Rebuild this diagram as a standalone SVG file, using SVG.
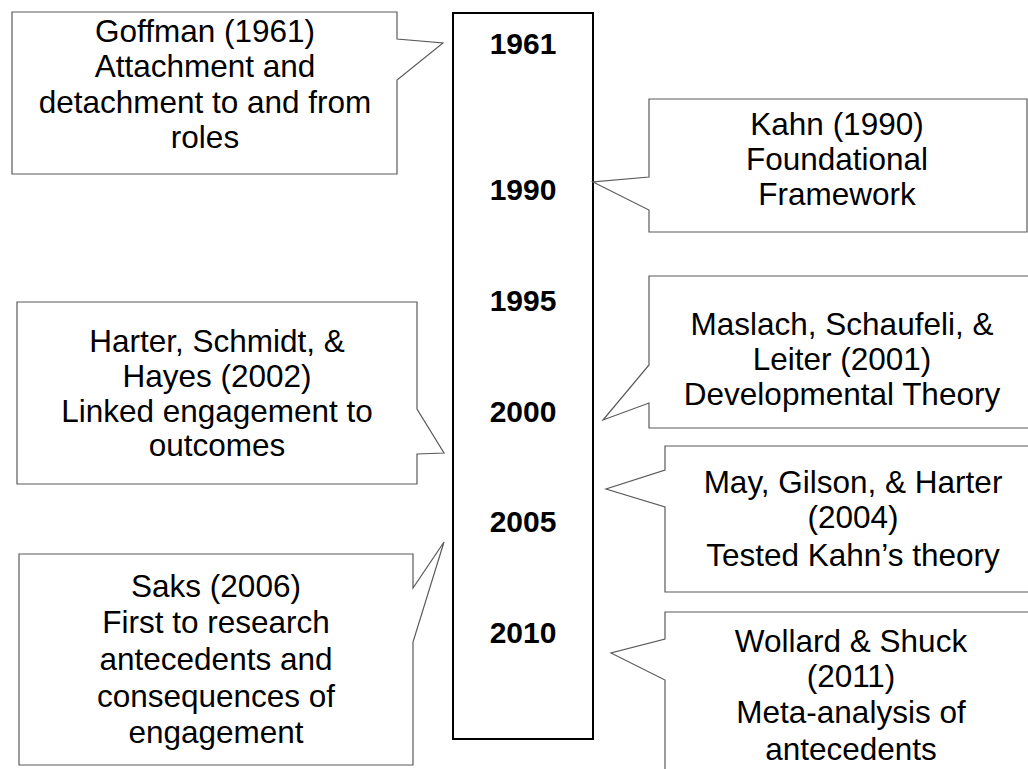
<svg xmlns="http://www.w3.org/2000/svg" width="1028" height="769" viewBox="0 0 1028 769">
  <style>
    .callout { fill: #ffffff; stroke: #5a5a5a; stroke-width: 1.2; stroke-linejoin: miter; }
    .axis { fill: #ffffff; stroke: #000000; stroke-width: 2; }
    .note { font-family: "Liberation Sans", Arial, sans-serif; font-size: 31.5px; fill: #000000; text-anchor: middle; }
    .year { font-family: "Liberation Sans", Arial, sans-serif; font-size: 30px; font-weight: bold; fill: #000000; text-anchor: middle; }
  </style>
  <rect width="1028" height="769" fill="#ffffff"/>

  <!-- timeline column with year marks -->
  <g id="timeline">
    <rect class="axis" x="453" y="13" width="140" height="726"/>
    <text class="year" x="523" y="54">1961</text>
    <text class="year" x="523" y="200">1990</text>
    <text class="year" x="523" y="311">1995</text>
    <text class="year" x="523" y="422">2000</text>
    <text class="year" x="523" y="532">2005</text>
    <text class="year" x="523" y="643">2010</text>
  </g>

  <!-- left-hand callouts -->
  <g id="goffman">
    <path class="callout" d="M12,12 H397 V39 L443,43 L397,80 V174 H12 Z"/>
    <text class="note" x="205" y="42">Goffman (1961)</text>
    <text class="note" x="205" y="77">Attachment and</text>
    <text class="note" x="205" y="113">detachment to and from</text>
    <text class="note" x="205" y="148">roles</text>
  </g>

  <g id="harter">
    <path class="callout" d="M17,302 H417 V409 L444,453 L417,454 V484 H17 Z"/>
    <text class="note" x="217" y="352">Harter, Schmidt, &amp;</text>
    <text class="note" x="217" y="387">Hayes (2002)</text>
    <text class="note" x="217" y="422">Linked engagement to</text>
    <text class="note" x="217" y="456">outcomes</text>
  </g>

  <g id="saks">
    <path class="callout" d="M19,554 H413 V588 L444,542 L413,642 V765 H19 Z"/>
    <text class="note" x="216" y="597">Saks (2006)</text>
    <text class="note" x="216" y="633">First to research</text>
    <text class="note" x="216" y="670">antecedents and</text>
    <text class="note" x="216" y="707">consequences of</text>
    <text class="note" x="216" y="743">engagement</text>
  </g>

  <!-- right-hand callouts -->
  <g id="kahn">
    <path class="callout" d="M649,99 H1027 V232 H649 V210 L593,182 L649,177 Z"/>
    <text class="note" x="837" y="135">Kahn (1990)</text>
    <text class="note" x="837" y="170">Foundational</text>
    <text class="note" x="837" y="205">Framework</text>
  </g>

  <g id="maslach">
    <path class="callout" d="M649,276 H1036 V428 H649 V403 L603,420 L649,365 Z"/>
    <text class="note" x="842" y="335">Maslach, Schaufeli, &amp;</text>
    <text class="note" x="842" y="370">Leiter (2001)</text>
    <text class="note" x="842" y="405">Developmental Theory</text>
  </g>

  <g id="may">
    <path class="callout" d="M665,446 H1042 V592 H665 V507 L606,489 L665,470 Z"/>
    <text class="note" x="853" y="493">May, Gilson, &amp; Harter</text>
    <text class="note" x="853" y="528">(2004)</text>
    <text class="note" x="853" y="566">Tested Kahn’s theory</text>
  </g>

  <g id="wollard">
    <path class="callout" d="M665,612 H1042 V790 H665 V680 L611,653 L665,639 Z"/>
    <text class="note" x="851" y="652">Wollard &amp; Shuck</text>
    <text class="note" x="851" y="687">(2011)</text>
    <text class="note" x="851" y="723">Meta-analysis of</text>
    <text class="note" x="851" y="760">antecedents</text>
  </g>
</svg>
